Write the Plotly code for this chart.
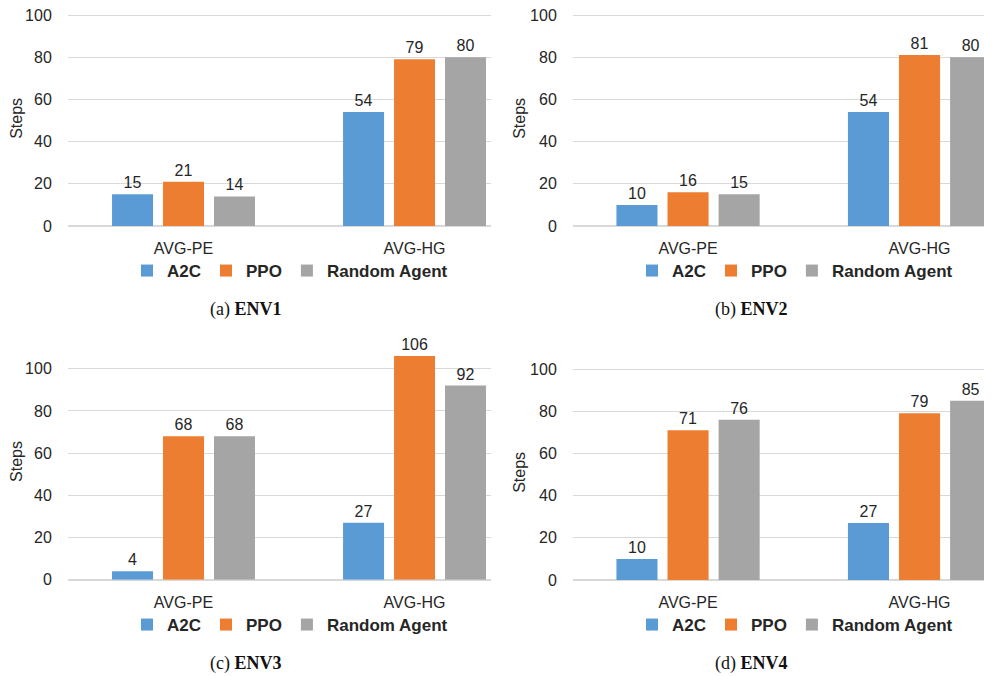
import plotly.graph_objects as go

categories = ["AVG-PE", "AVG-HG"]
series_names = ["A2C", "PPO", "Random Agent"]
colors = ["#5B9BD5", "#ED7D31", "#A5A5A5"]

env1_a2c = [15, 54]
env1_ppo = [21, 79]
env1_rand = [14, 80]

env2_a2c = [10, 54]
env2_ppo = [16, 81]
env2_rand = [15, 80]

env3_a2c = [4, 27]
env3_ppo = [68, 106]
env3_rand = [68, 92]

env4_a2c = [10, 27]
env4_ppo = [71, 79]
env4_rand = [76, 85]

captions = ["(a) <b>ENV1</b>", "(b) <b>ENV2</b>", "(c) <b>ENV3</b>", "(d) <b>ENV4</b>"]
y_ticks = [0, 20, 40, 60, 80, 100]

# page body has an 8px margin, so the figure starts at (8, 8) of the window
OFF = 8
W, H = 992 - OFF, 676 - OFF
def px(x):
    return min(1.0, (x - OFF) / W)
def py(y):
    return 1 - (y - OFF) / H

PXU = 2.11  # pixels per unit on the y axes
panels = [
    dict(data=[env1_a2c, env1_ppo, env1_rand], xd=[px(68), px(491)], xr=[-0.5, 1.331],
         y0=226, yr=[0, 102], leg=(px(290), py(271)), cap=(px(246), py(309))),
    dict(data=[env2_a2c, env2_ppo, env2_rand], xd=[px(573), px(992)], xr=[-0.497, 1.313],
         y0=226, yr=[0, 102], leg=(px(795), py(271)), cap=(px(751), py(309))),
    dict(data=[env3_a2c, env3_ppo, env3_rand], xd=[px(68), px(491)], xr=[-0.5, 1.331],
         y0=579.7, yr=[0, 112], leg=(px(290), py(625)), cap=(px(246), py(663))),
    dict(data=[env4_a2c, env4_ppo, env4_rand], xd=[px(573), px(992)], xr=[-0.497, 1.313],
         y0=580, yr=[0, 102], leg=(px(795), py(625)), cap=(px(751), py(663))),
]

fig = go.Figure()
font_txt = dict(family="Liberation Sans, Arial, sans-serif", size=16, color="#262626")
layout = {}
annotations = []
for i, p in enumerate(panels):
    n = i + 1
    xa = "x" if n == 1 else f"x{n}"
    ya = "y" if n == 1 else f"y{n}"
    lg = "legend" if n == 1 else f"legend{n}"
    for s, vals in enumerate(p["data"]):
        fig.add_trace(go.Bar(
            x=categories, y=vals, name=series_names[s],
            marker=dict(color=colors[s], line=dict(width=0)),
            text=vals, textposition="outside", cliponaxis=False,
            textfont=font_txt, xaxis=xa, yaxis=ya, legend=lg,
            offsetgroup=str(s),
        ))
    xkey = "xaxis" if n == 1 else f"xaxis{n}"
    ykey = "yaxis" if n == 1 else f"yaxis{n}"
    ytop = p["y0"] - p["yr"][1] * PXU
    layout[xkey] = dict(domain=p["xd"], range=p["xr"], anchor=ya, type="category",
                        showgrid=False, showline=False, zeroline=False, automargin=False,
                        ticks="outside", ticklen=8, tickcolor="rgba(0,0,0,0)",
                        tickfont=font_txt, fixedrange=True, ticklabeloverflow="allow")
    layout[ykey] = dict(domain=[py(p["y0"]), py(ytop)], range=p["yr"], anchor=xa,
                        automargin=False, ticklabeloverflow="allow",
                        tickvals=y_ticks, showgrid=True, gridcolor="#D9D9D9", gridwidth=1,
                        zeroline=True, zerolinecolor="#D9D9D9", zerolinewidth=1.5,
                        showline=False, ticks="outside", ticklen=12,
                        tickcolor="rgba(0,0,0,0)", tickfont=font_txt,
                        title=dict(text="Steps", font=font_txt, standoff=0))
    layout[lg] = dict(orientation="h", x=p["leg"][0], y=p["leg"][1],
                      xanchor="center", yanchor="middle",
                      font=dict(family="Liberation Sans, Arial, sans-serif", size=17,
                                color="#262626", weight="bold"),
                      itemwidth=30, tracegroupgap=0, bgcolor="rgba(0,0,0,0)")
    annotations.append(dict(text=captions[i], x=p["cap"][0], y=p["cap"][1],
                            xref="paper", yref="paper", showarrow=False,
                            xanchor="center", yanchor="middle",
                            font=dict(family="Liberation Serif, Times New Roman, serif",
                                      size=18, color="#111111")))

fig.update_layout(**layout)
fig.update_layout(
    width=W, height=H, margin=dict(l=0, r=0, t=0, b=0, autoexpand=False),
    paper_bgcolor="white", plot_bgcolor="white",
    barmode="group", bargap=0.338, bargroupgap=0.196,
    annotations=annotations, showlegend=True,
)
fig.write_html("out.html")
